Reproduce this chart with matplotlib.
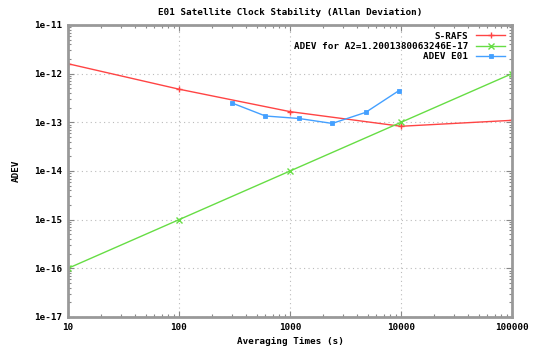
import numpy as np
import matplotlib
matplotlib.use("Agg")
import matplotlib.pyplot as plt
from matplotlib.ticker import LogLocator, FixedLocator, FixedFormatter, NullFormatter

# Data
tau_rafs = [10, 100, 1000, 10000, 100000]
adev_rafs = [1.6e-12, 4.8e-13, 1.66e-13, 8.3e-14, 1.1e-13]

tau_model = [10, 100, 1000, 10000, 100000]
adev_model = [1e-16, 1e-15, 1e-14, 1e-13, 1e-12]

tau_e01 = [300, 600, 1200, 2400, 4800, 9600]
adev_e01 = [2.5e-13, 1.35e-13, 1.2e-13, 9.5e-14, 1.6e-13, 4.5e-13]

x_ticks = [10, 100, 1000, 10000, 100000]
x_labels = ["10", "100", "1000", "10000", "100000"]
y_ticks = [1e-17, 1e-16, 1e-15, 1e-14, 1e-13, 1e-12, 1e-11]
y_labels = ["1e-17", "1e-16", "1e-15", "1e-14", "1e-13", "1e-12", "1e-11"]

plt.rcParams['font.family'] = ['DejaVu Sans Mono']
plt.rcParams['font.weight'] = 'bold'
fs = 6.7

fig = plt.figure(figsize=(5.33, 3.51), dpi=100)
ax = fig.add_axes([68 / 533, 1 - 317 / 351, (512 - 68) / 533, (317 - 25) / 351])

ax.plot(tau_rafs, adev_rafs, color='#ff4444', lw=1, marker='+', ms=5, mew=1,
        label='S-RAFS')
ax.plot(tau_model, adev_model, color='#66dd44', lw=1, marker='x', ms=4, mew=1,
        label='ADEV for A2=1.2001380063246E-17')
ax.plot(tau_e01, adev_e01, color='#44a0ff', lw=1, marker='s', ms=2.5, mew=0.6,
        label='ADEV E01')

ax.set_xscale('log')
ax.set_yscale('log')
ax.set_xlim(10, 100000)
ax.set_ylim(1e-17, 1e-11)

ax.xaxis.set_major_locator(FixedLocator(x_ticks))
ax.xaxis.set_major_formatter(FixedFormatter(x_labels))
ax.yaxis.set_major_locator(FixedLocator(y_ticks))
ax.yaxis.set_major_formatter(FixedFormatter(y_labels))
ax.xaxis.set_minor_locator(LogLocator(base=10, subs=np.arange(2, 10)))
ax.yaxis.set_minor_locator(LogLocator(base=10, subs=np.arange(2, 10)))
ax.xaxis.set_minor_formatter(NullFormatter())
ax.yaxis.set_minor_formatter(NullFormatter())

ax.tick_params(which='both', direction='in', top=True, right=True,
               color='#888888', labelsize=fs, pad=4)
ax.tick_params(which='major', length=4, width=0.8)
ax.tick_params(which='minor', length=2, width=0.8)

ax.grid(True, which='major', linestyle=(0, (1, 3)), color='#bbbbbb', lw=0.8)
for sp in ax.spines.values():
    sp.set_color('#999999')
    sp.set_linewidth(2)

ax.set_title('E01 Satellite Clock Stability (Allan Deviation)', fontsize=fs,
             fontweight='bold', pad=7)
ax.set_xlabel('Averaging Times (s)', fontsize=fs, fontweight='bold', labelpad=4)
ax.set_ylabel('ADEV', fontsize=fs, fontweight='bold', labelpad=10)

leg = ax.legend(loc='upper right', fontsize=fs, frameon=False, markerfirst=False,
                handlelength=3.2, borderaxespad=0.3, labelspacing=0.15,
                handletextpad=0.8)
for t in leg.get_texts():
    t.set_ha('right')
leg._legend_box.align = 'right'

fig.savefig('out.png', dpi=100)
